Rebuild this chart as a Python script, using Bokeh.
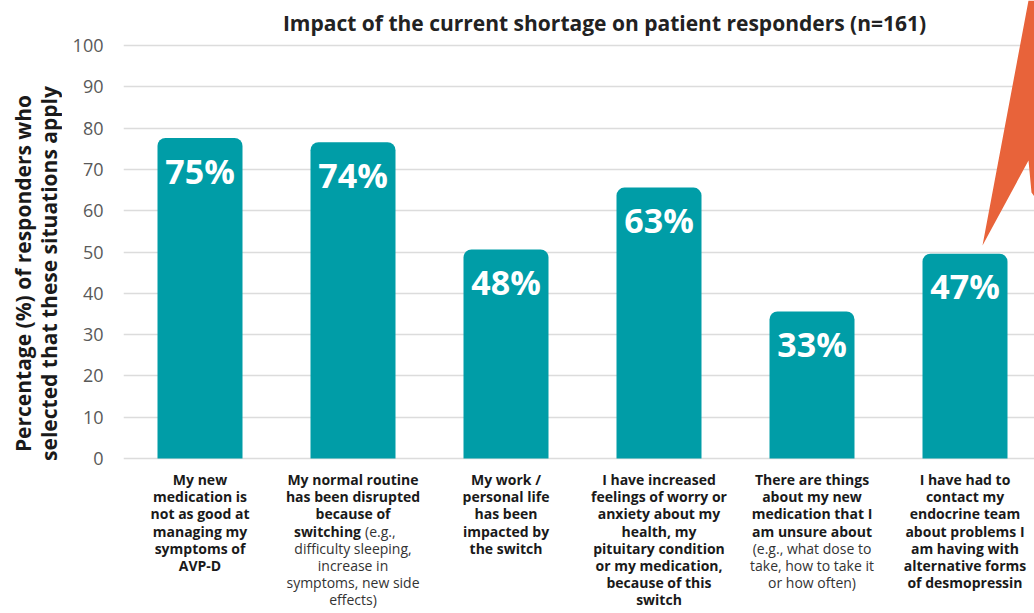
import math
from bokeh.plotting import figure
from bokeh.layouts import row
from bokeh.models import Range1d, FixedTicker, Label, ColumnDataSource
from bokeh.core.properties import value
from bokeh.embed import file_html
from bokeh.resources import INLINE

# ---------------- data ----------------
TITLE = "Impact of the current shortage on patient responders (n=161)"
Y_TITLE_LINES = ["Percentage (%) of responders who", "selected that these situations apply"]
VALUES = [75, 74, 48, 63, 33, 47]
VALUE_LABELS = ["75%", "74%", "48%", "63%", "33%", "47%"]
Y_TICKS = [0, 10, 20, 30, 40, 50, 60, 70, 80, 90, 100]

# category labels: each line is (bold part, regular part)
CAT_1 = [("My new", ""), ("medication is", ""), ("not as good at", ""),
         ("managing my", ""), ("symptoms of", ""), ("AVP-D", "")]
CAT_2 = [("My normal routine", ""), ("has been disrupted", ""), ("because of", ""),
         ("switching", "(e.g.,"), ("", "difficulty sleeping,"), ("", "increase in"),
         ("", "symptoms, new side"), ("", "effects)")]
CAT_3 = [("My work /", ""), ("personal life", ""), ("has been", ""),
         ("impacted by", ""), ("the switch", "")]
CAT_4 = [("I have increased", ""), ("feelings of worry or", ""), ("anxiety about my", ""),
         ("health, my", ""), ("pituitary condition", ""), ("or my medication,", ""),
         ("because of this", ""), ("switch", "")]
CAT_5 = [("There are things", ""), ("about my new", ""), ("medication that I", ""),
         ("am unsure about", ""), ("", "(e.g., what dose to"), ("", "take, how to take it"),
         ("", "or how often)")]
CAT_6 = [("I have had to", ""), ("contact my", ""), ("endocrine team", ""),
         ("about problems I", ""), ("am having with", ""), ("alternative forms", ""),
         ("of desmopressin", "")]
CATEGORIES = [CAT_1, CAT_2, CAT_3, CAT_4, CAT_5, CAT_6]

# ---------------- style ----------------
TEAL = "#009DA7"
ORANGE = "#E8633A"
GRID = "#DCDCDC"
FONT = "Open Sans"
W, H = 1034, 613
SIDE_W = 62                         # width of the y-title strip
LEFT = 123                          # frame left edge in the page
Y0_PX, PX_PER_UNIT = 458, 4.13      # pixel of y=0, pixels per percent
CAT_PX = 153                        # pixels per category
CAP = 2.6                           # rounded cap above the value

def py_to_y(py):
    return (Y0_PX - py) / PX_PER_UNIT

def px_to_x(px):
    return 0.5 + (px - LEFT) / CAT_PX

# ---- strip with the two-line y axis title ----
side = figure(width=SIDE_W, height=H, output_backend="svg", toolbar_location=None,
              x_range=Range1d(0, SIDE_W), y_range=Range1d(H, 0),
              x_axis_type=None, y_axis_type=None,
              min_border_left=0, min_border_right=0, min_border_top=0, min_border_bottom=0)
side.outline_line_color = None
side.grid.visible = False
side.text(x=[22, 48], y=[273, 273], text=Y_TITLE_LINES, angle=math.pi / 2,
          text_align="center", text_baseline="middle", text_font=value(FONT),
          text_font_style="bold", text_font_size="21px", text_color="#1A1A1A")

# ---- main chart ----
p = figure(width=W - SIDE_W, height=H, output_backend="svg", toolbar_location=None,
           x_range=Range1d(0.5, px_to_x(W)), y_range=Range1d(py_to_y(H), py_to_y(0)),
           min_border_left=LEFT - SIDE_W, min_border_right=0, min_border_top=0,
           min_border_bottom=0, x_axis_type=None)
p.outline_line_color = None

p.yaxis.ticker = FixedTicker(ticks=Y_TICKS)
p.ygrid.ticker = FixedTicker(ticks=Y_TICKS)
p.ygrid.grid_line_color = GRID
p.ygrid.grid_line_width = 1.5
p.yaxis.axis_line_color = None
p.yaxis.major_tick_line_color = None
p.yaxis.minor_tick_line_color = None
p.yaxis.major_label_text_font = FONT
p.yaxis.major_label_text_font_size = "18px"
p.yaxis.major_label_text_color = "#595959"
p.yaxis.major_label_standoff = 14

xs = list(range(1, len(VALUES) + 1))
p.vbar(x=xs, top=[v + CAP for v in VALUES], bottom=0, width=85 / CAT_PX,
       fill_color=TEAL, line_color=None, border_radius=(8, 8, 0, 0))

p.text(x=xs, y=[v - 22 / PX_PER_UNIT for v in VALUES], text=VALUE_LABELS,
       text_align="center", text_baseline="middle", text_color="white",
       text_font=value(FONT), text_font_style="bold", text_font_size="34px")

# category labels
FIRST_LINE_PX, LINE_PX = 479, 17.2
SPLIT_PX = 10
cx, cy, ct, cxo, calign, cstyle, ccol = [], [], [], [], [], [], []
for i, lines in enumerate(CATEGORIES):
    for j, (b, r) in enumerate(lines):
        y = py_to_y(FIRST_LINE_PX + j * LINE_PX)
        if b and r:
            cx += [i + 1, i + 1]; cy += [y, y]; ct += [b, r]
            cxo += [SPLIT_PX - 2, SPLIT_PX + 2]; calign += ["right", "left"]
            cstyle += ["bold", "normal"]; ccol += ["#1A1A1A", "#333333"]
        else:
            cx.append(i + 1); cy.append(y); ct.append(b or r); cxo.append(0)
            calign.append("center"); cstyle.append("bold" if b else "normal")
            ccol.append("#1A1A1A" if b else "#333333")
src = ColumnDataSource(dict(x=cx, y=cy, text=ct, xo=cxo, align=calign, style=cstyle, col=ccol))
p.text(x="x", y="y", text="text", x_offset="xo", text_align="align", text_font_style="style",
       text_color="col", source=src, text_baseline="middle",
       text_font=value(FONT), text_font_size="14px")

# decorative orange callout spike (top right)
spike_px = [(982, 245), (1028, 0), (1040, 0), (1040, 205), (1031, 192), (1028, 160)]
p.patch([px_to_x(a) for a, b in spike_px], [py_to_y(b) for a, b in spike_px],
        fill_color=ORANGE, line_color=None)

# title
p.add_layout(Label(x=px_to_x(604), y=py_to_y(22), text=TITLE, text_align="center",
                   text_baseline="middle", text_font=FONT, text_font_style="bold",
                   text_font_size="21px", text_color="#222222"))

layout = row(side, p, spacing=0)
open("out.html", "w").write(file_html(layout, INLINE))
